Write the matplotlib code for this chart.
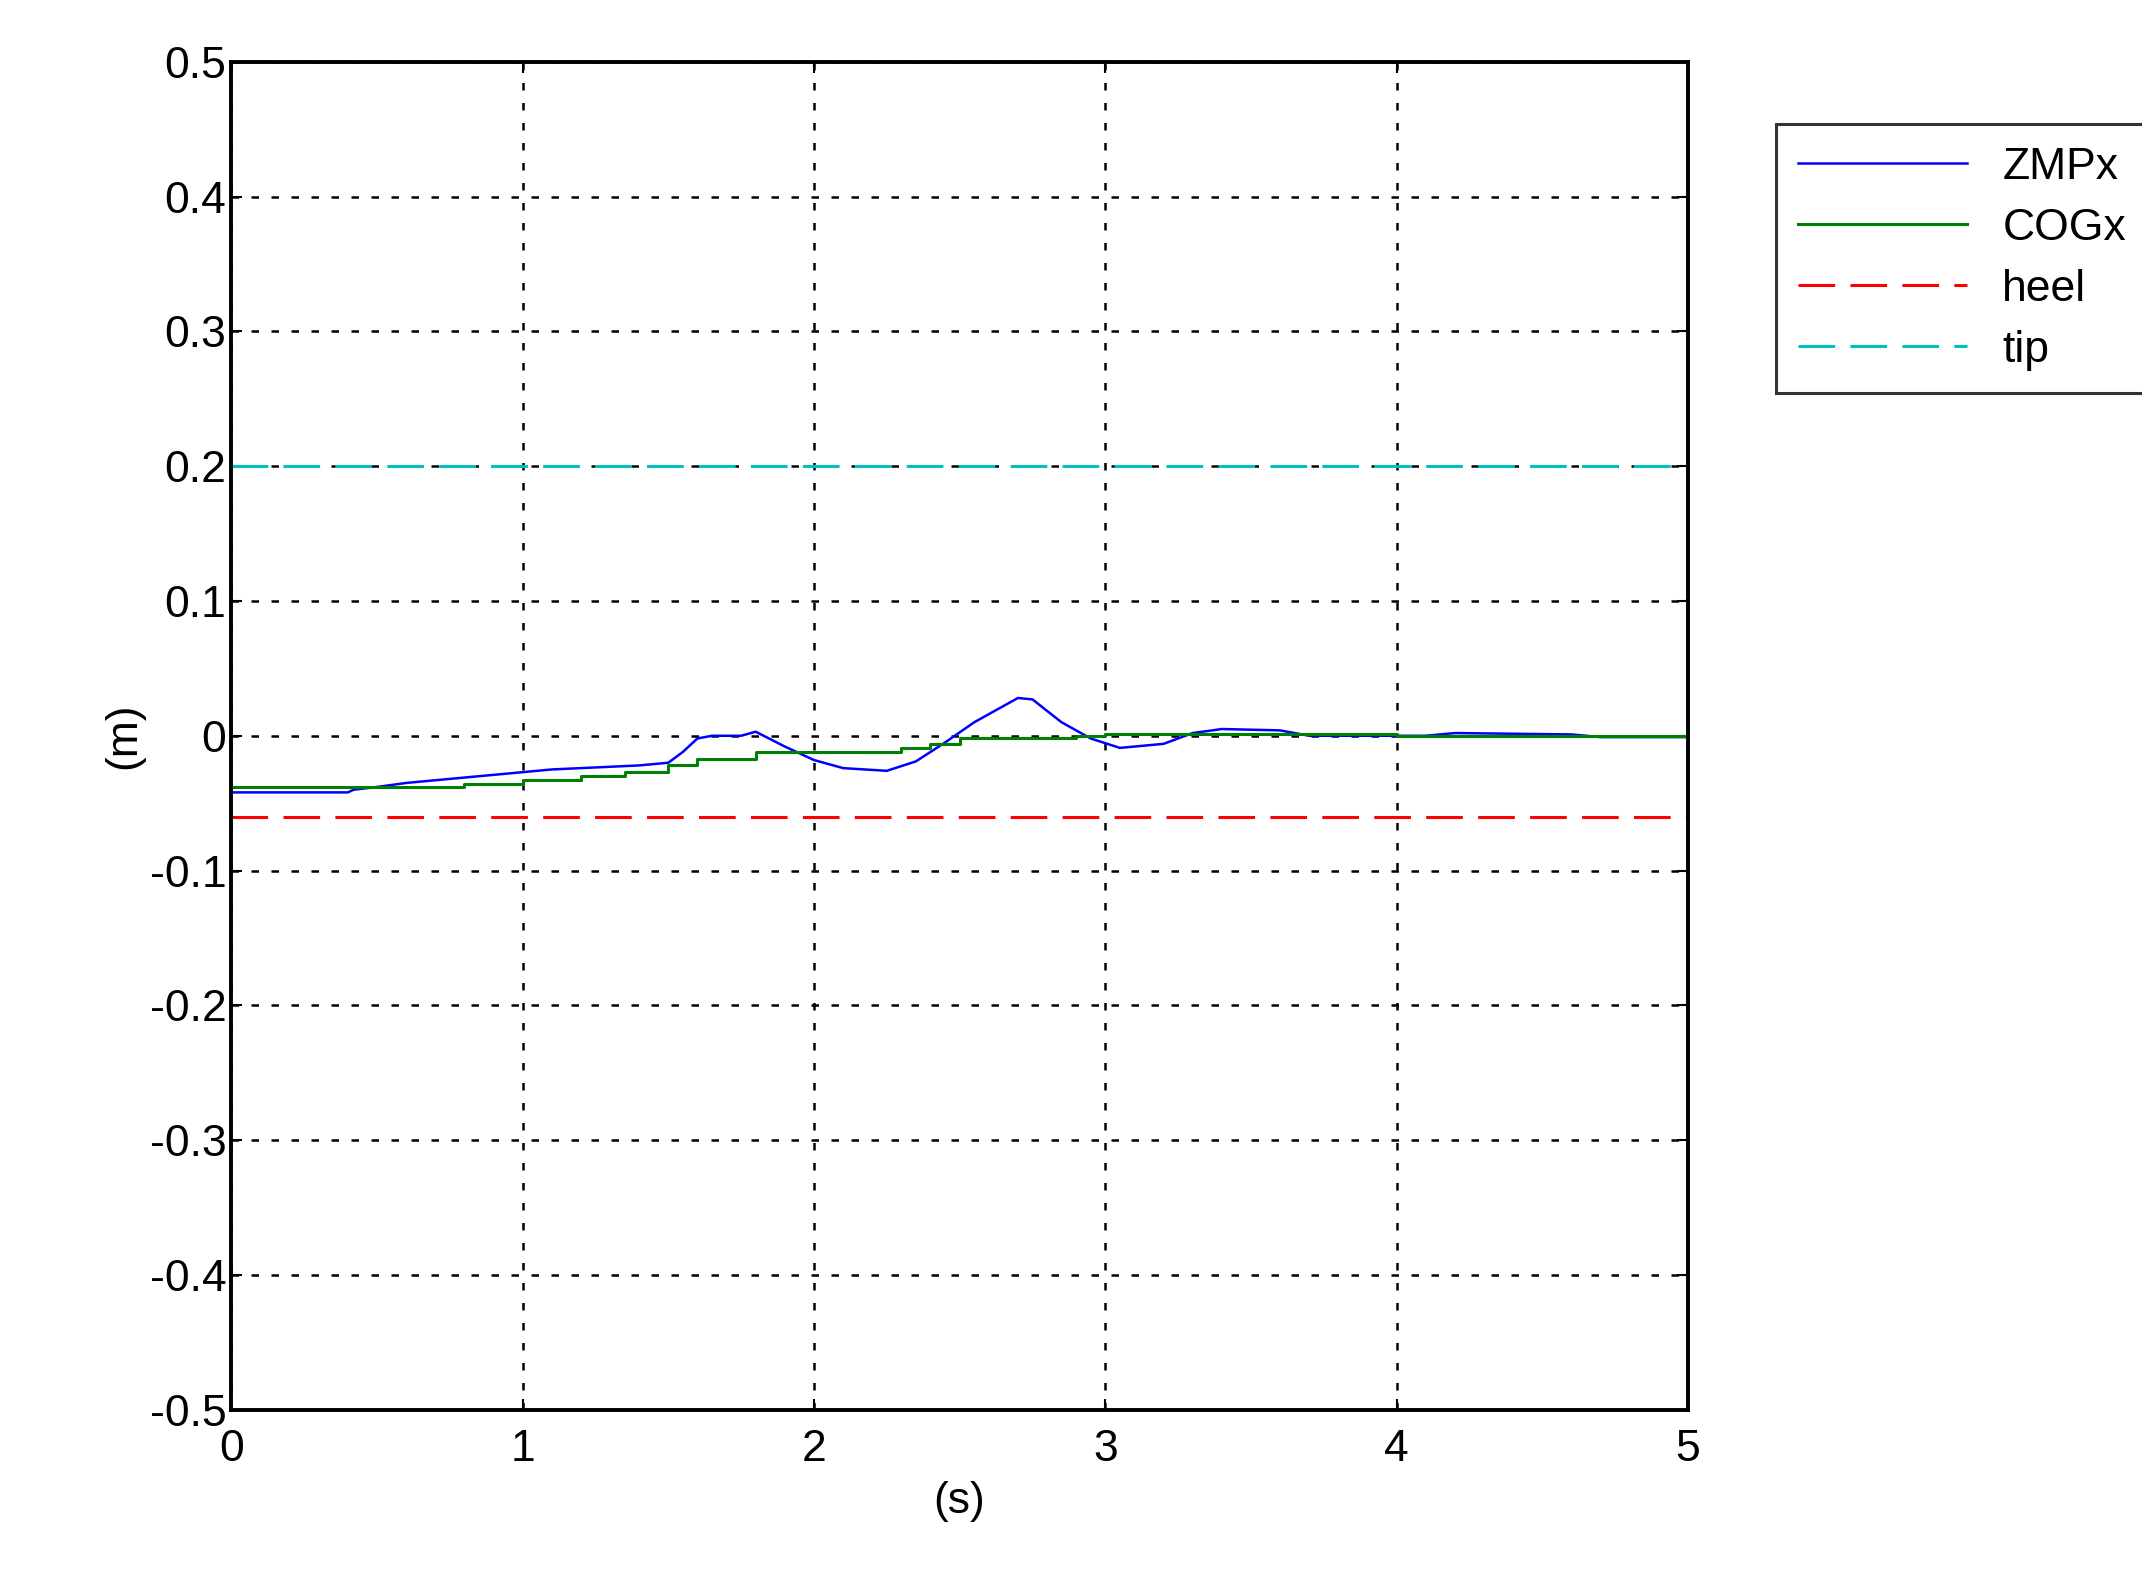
import matplotlib
matplotlib.use("Agg")
import matplotlib.pyplot as plt
plt.rcParams['font.family'] = ['Liberation Sans', 'DejaVu Sans']

zmp_t = [0, 0.4, 0.42, 0.5, 0.6, 0.75, 0.95, 1.1, 1.4, 1.5, 1.55, 1.6, 1.65, 1.75, 1.8, 1.9, 2.0, 2.1, 2.25, 2.35, 2.45, 2.55, 2.65, 2.7, 2.75, 2.85, 2.95, 3.05, 3.2, 3.3, 3.4, 3.6, 3.7, 4.1, 4.2, 4.6, 4.7, 5.0]
zmp_v = [-0.042, -0.042, -0.040, -0.038, -0.035, -0.032, -0.028, -0.025, -0.022, -0.020, -0.012, -0.002, 0.0, 0.0, 0.003, -0.008, -0.018, -0.024, -0.026, -0.019, -0.005, 0.010, 0.022, 0.028, 0.027, 0.010, -0.002, -0.009, -0.006, 0.002, 0.005, 0.004, 0.0, 0.0, 0.002, 0.001, -0.001, -0.001]
cog_t = [0, 0.4, 0.8, 1.0, 1.2, 1.35, 1.5, 1.6, 1.8, 2.3, 2.4, 2.5, 2.9, 3.0, 4.0, 5.0]
cog_v = [-0.038, -0.038, -0.036, -0.033, -0.030, -0.027, -0.022, -0.017, -0.012, -0.009, -0.006, -0.002, 0.0, 0.001, 0.0, 0.002]
heel = -0.06
tip = 0.2

fig = plt.figure(figsize=(21.42, 15.84), dpi=100)
ax = fig.add_axes([0.108, 0.11, 0.68, 0.851])
ax.plot(zmp_t, zmp_v, color="blue", lw=1.8, label="ZMPx")
ax.plot(cog_t, cog_v, color="green", lw=2.2, drawstyle="steps-post", label="COGx")
ax.plot([0, 5], [heel, heel], color="red", lw=2.2, ls=(0, (12, 5)), label="heel")
ax.plot([0, 5], [tip, tip], color="#00c0c0", lw=2.2, ls=(0, (12, 5)), label="tip")
ax.set_xlim(0, 5)
ax.set_ylim(-0.5, 0.5)
ax.set_xticks(range(6))
ax.set_yticks([i / 10 for i in range(-5, 6)])
ax.set_yticklabels(["-0.5", "-0.4", "-0.3", "-0.2", "-0.1", "0", "0.1", "0.2", "0.3", "0.4", "0.5"])
ax.grid(True, color="black", ls=(0, (3, 5)), lw=1.8)
ax.tick_params(labelsize=32, direction="in", length=8, width=1.5, top=True, right=True)
ax.tick_params(axis="x", pad=14)
for s in ax.spines.values():
    s.set_linewidth(2.8)
ax.set_xlabel("(s)", fontsize=32, labelpad=8)
ax.set_ylabel("(m)", fontsize=32)
leg = ax.legend(loc="upper left", bbox_to_anchor=(1.045, 0.97), fontsize=32, frameon=True,
                fancybox=False, edgecolor="black", handlelength=3.8, borderpad=0.5, labelspacing=0.45)
leg.get_frame().set_linewidth(2.2)
fig.savefig("out.png", dpi=100, facecolor="white")
